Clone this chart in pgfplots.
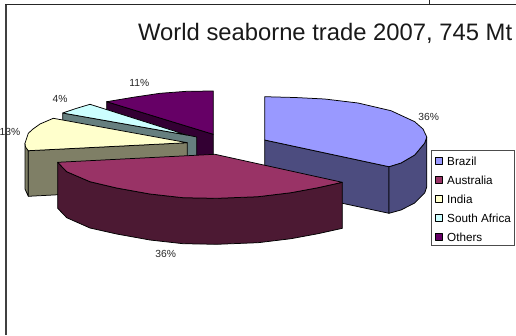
\documentclass[border=0pt]{standalone}
\usepackage{pgfplots}
\pgfplotsset{compat=1.18}
\usepackage{fontspec}
\setmainfont{Liberation Sans}
\definecolor{brazil}{HTML}{9999FF}\definecolor{brazilw}{HTML}{4C4C7F}
\definecolor{austr}{HTML}{993366}\definecolor{austrw}{HTML}{4C1933}
\definecolor{india}{HTML}{FFFFCC}\definecolor{indiaw}{HTML}{7F7F66}
\definecolor{safr}{HTML}{CCFFFF}\definecolor{safrw}{HTML}{667F7F}
\definecolor{others}{HTML}{660066}\definecolor{othersw}{HTML}{330033}
\tikzset{slice/.style={draw=black,line width=0.75pt,line join=round,fill=#1}}
\newcommand{\legtext}[2]{\node[inner sep=0pt,anchor=base west,font=\fontsize{11.7pt}{12pt}\selectfont] at (axis cs:447,#1) {#2};}
\newcommand{\pct}[3]{\node[inner sep=0pt,anchor=center,font=\fontsize{10.3pt}{12pt}\selectfont,text=black!85] at (axis cs:#1,#2) {#3\%};}
\begin{document}
\begin{tikzpicture}
\begin{axis}[
  width=516pt,height=335pt,scale only axis,
  xmin=0,xmax=516,ymin=0,ymax=335,y dir=reverse,
  axis lines=none,clip=false,no markers,
  every axis plot/.append style={sharp plot},
  ]
% page frame
\addplot[color=black!75,line width=2pt] coordinates {(6,4.5) (6,335)};
\addplot[color=black!85,line width=1.2pt] coordinates {(5,4.5) (516,4.5)};
\addplot[color=black!85,line width=1pt] coordinates {(429,0) (429,4.5)};

% Others
\addplot[slice=othersw] coordinates {(106.7,101.7) (213.3,134.3) (213.3,180) (106.7,147)} --cycle;
\addplot[slice=others] coordinates {(213.3,134.3) (106.7,101.7) (133,97.3) (160,93.3) (186.7,91.3) (213.3,91)} --cycle;
% South Africa
\addplot[slice=safrw] coordinates {(62.7,113) (186.7,135) (196.7,137) (196.7,183) (62.7,159)} --cycle;
\addplot[slice=safr] coordinates {(186.7,135) (62.7,113) (76,108.5) (90,104.3)} --cycle;
% India
\addplot[slice=indiaw] coordinates {(25,143.3) (28.3,150.7) (28.3,196.3) (25,189)} --cycle;
\addplot[slice=indiaw] coordinates {(28.3,150.7) (187.3,142.7) (187.3,188) (28.3,196.3)} --cycle;
\addplot[slice=india] coordinates {(187.3,142.7) (28.3,150.7) (25.5,147) (25,143.3) (28.3,133.3) (33,129) (40,124) (53.3,118.3)} --cycle;
% Brazil
\addplot[slice=brazilw] coordinates {(264.7,140) (389,166.7) (389,213.3) (264.7,186.6)} --cycle;
\addplot[slice=brazilw] coordinates {(389,166.7) (401,163) (414.7,155) (424.7,143) (426.8,137) (426.8,186.7) (424.7,193) (414.7,203) (401,210) (389,213.3)} --cycle;
\addplot[slice=brazil] coordinates {(264.7,140) (264.7,96.7) (295,97.5) (324.7,99) (358,103) (391,110.7) (414.7,121.7) (423,129) (426.8,137) (424.7,143) (414.7,155) (401,163) (389,166.7)} --cycle;
% Australia
\addplot[slice=austrw] coordinates {(57.7,162.3) (66.7,171.7) (90,181.7) (116.7,188) (150,194) (183,197.7) (216.7,198.3) (258,196.7) (291,192.7) (318,187.7) (342.3,182.3) (342.3,228.3) (318,233.7) (291,238.7) (258,242.7) (216.7,244.3) (183,243.7) (150,240) (116.7,234) (90,228) (66.7,217.7) (57.7,208.3)} --cycle;
\addplot[slice=austr] coordinates {(215,154.3) (342.3,182.3) (318,187.7) (291,192.7) (258,196.7) (216.7,198.3) (183,197.7) (150,194) (116.7,188) (90,181.7) (66.7,171.7) (57.7,162.3)} --cycle;

% legend box and colour keys
\addplot[draw=black!70,line width=0.8pt,fill=white] coordinates {(431.3,150) (514.7,150) (514.7,245) (431.3,245)} --cycle;
\addplot[slice=brazil,line width=0.6pt] coordinates {(435.5,157.3) (442.3,157.3) (442.3,164) (435.5,164)} --cycle;
\addplot[slice=austr,line width=0.6pt] coordinates {(435.5,176.6) (442.3,176.6) (442.3,183.3) (435.5,183.3)} --cycle;
\addplot[slice=india,line width=0.6pt] coordinates {(435.5,195.6) (442.3,195.6) (442.3,202.3) (435.5,202.3)} --cycle;
\addplot[slice=safr,line width=0.6pt] coordinates {(435.5,214.3) (442.3,214.3) (442.3,221) (435.5,221)} --cycle;
\addplot[slice=others,line width=0.6pt] coordinates {(435.5,233.3) (442.3,233.3) (442.3,240) (435.5,240)} --cycle;

\legtext{165}{Brazil}
\legtext{184.3}{Australia}
\legtext{203.3}{India}
\legtext{222}{South Africa}
\legtext{241}{Others}

\pct{428.7}{117.3}{36}
\pct{165.7}{254.3}{36}
\pct{10}{132.3}{13}
\pct{60}{99.3}{4}
\pct{139.3}{83.3}{11}

\node[inner sep=0pt,anchor=base west,font=\fontsize{23.8pt}{26pt}\selectfont,text=black!90] at (axis cs:138,40.7) {World seaborne trade 2007, 745 Mt};
\end{axis}
\pgfresetboundingbox
\useasboundingbox (current axis.south west) rectangle (current axis.north east);
\end{tikzpicture}
\end{document}
